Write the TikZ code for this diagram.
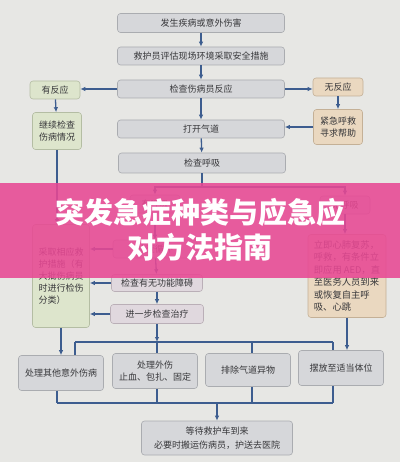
\documentclass[tikz,border=0pt]{standalone}
\usepackage{fontspec}
\newfontfamily\cjk{Noto Sans CJK SC}
\usepackage{tikz}
\usetikzlibrary{arrows.meta,calc,positioning}
\definecolor{paper}{RGB}{231,231,228}
\definecolor{boxgray}{RGB}{214,215,218}
\definecolor{boxline}{RGB}{170,172,176}
\definecolor{boxgreen}{RGB}{221,229,204}
\definecolor{linegreen}{RGB}{180,189,163}
\definecolor{boxtan}{RGB}{234,216,192}
\definecolor{linetan}{RGB}{196,176,150}
\definecolor{boxmauve}{RGB}{224,216,222}
\definecolor{linemauve}{RGB}{186,175,183}
\definecolor{arrowblue}{RGB}{61,93,143}
\definecolor{txt}{RGB}{55,55,58}
\definecolor{banner}{RGB}{232,72,148}
\tikzset{
  box/.style={draw=boxline,fill=boxgray,rounded corners=3pt,line width=0.6pt,
    minimum height=19pt,inner sep=1pt,text=txt,align=center,
    font=\cjk\fontsize{9}{12}\selectfont},
  mainbox/.style={box,minimum width=167pt},
  greenbox/.style={box,draw=linegreen,fill=boxgreen},
  tanbox/.style={box,draw=linetan,fill=boxtan},
  mauvebox/.style={box,draw=linemauve,fill=boxmauve},
  sidebox/.style={box,minimum width=85pt,minimum height=35pt},
  edge/.style={-{Latex[length=5pt,width=4.5pt]},line width=1.3pt,draw=arrowblue},
  bus/.style={line width=1.3pt,draw=arrowblue},
  every node/.style={font=\cjk\small}
}
\begin{document}
\begin{tikzpicture}[x=1pt,y=-1pt]
\useasboundingbox (0,0) rectangle (400,462);
\fill[paper] (0,0) rectangle (400,462);
% main column
\node[mainbox] (start) at (201,23) {发生疾病或意外伤害};
\node[mainbox,minimum height=18pt] (assess) at (201,56) {救护员评估现场环境采取安全措施};
\node[mainbox,minimum height=18pt] (resp) at (201,89) {检查伤病员反应};
\node[mainbox,minimum height=18pt] (airway) at (201,129) {打开气道};
\node[mainbox,minimum height=20pt] (breath) at (202,163) {检查呼吸};
% reaction branches
\node[greenbox,minimum width=50pt,minimum height=18pt] (yesresp) at (55,90) {有反应};
\node[greenbox,minimum width=49pt,minimum height=37pt] (contchk) at (57,131) {继续检查\\伤病情况};
\node[tanbox,minimum width=50pt,minimum height=18pt] (noresp) at (338,87) {无反应};
\node[tanbox,minimum width=49pt,minimum height=35pt] (callhelp) at (338,127) {紧急呼救\\寻求帮助};
% breathing branches
\node[box,minimum width=50pt,minimum height=18pt] (yesbr) at (155,204) {有呼吸};
\node[box,minimum width=50pt,minimum height=18pt] (nobr) at (345,205) {无呼吸};
\node[box,minimum width=84pt,minimum height=18pt] (circ) at (155,249) {检查循环};
\node[mauvebox,minimum width=91pt,minimum height=17pt] (disab) at (157,283) {检查有无功能障碍};
\node[mauvebox,minimum width=93pt,minimum height=19pt] (further) at (157,314) {进一步检查治疗};
\node[greenbox,minimum width=57pt,minimum height=103pt,align=left,
  font=\cjk\fontsize{9}{12}\selectfont] (measures) at (61,276)
  {采取相应救\\护措施（有\\大批伤病员\\时进行检伤\\分类）};
\node[tanbox,minimum width=78pt,minimum height=83pt,align=left,
  font=\cjk\fontsize{9.3}{12.5}\selectfont] (cpr) at (347,276)
  {立即心肺复苏，\\呼救，有条件立\\即应用 AED，直\\至医务人员到来\\或恢复自主呼\\吸、心跳};
% actions
\node[sidebox] (other) at (61,373) {处理其他意外伤病};
\node[sidebox] (wound) at (155,371) {处理外伤\\止血、包扎、固定};
\node[sidebox,minimum height=33pt] (foreign) at (248,370) {排除气道异物};
\node[sidebox] (posture) at (341,368) {摆放至适当体位};
\node[box,minimum width=151pt,minimum height=34pt,font=\cjk\fontsize{9}{14}\selectfont] (wait) at (217,438)
  {等待救护车到来\\必要时搬运伤病员，护送去医院};
% connectors
\draw[edge] (start) -- (assess);
\draw[edge] (assess) -- (resp);
\draw[edge] (resp) -- (airway);
\draw[edge] (airway) -- (breath);
\draw[edge] (resp.west) -- (yesresp.east |- resp.west);
\draw[edge] (resp.east) -- (noresp.west |- resp.east);
\draw[edge] (yesresp) -- (contchk);
\draw[edge] (noresp) -- (callhelp);
\draw[edge] (callhelp.west) -- (callhelp.west -| airway.east);
\draw[edge] (contchk.south) -- (contchk.south |- measures.north);
\coordinate (split) at (202,187);
\draw[bus] (breath) -- (split);
\draw[edge] (split) -| (yesbr.north);
\draw[edge] (split) -| (nobr.north);
\draw[edge] (yesbr) -- (circ);
\draw[edge] (circ) -- (disab);
\draw[edge] (disab) -- (further);
\draw[edge] (nobr.south) -- (nobr.south |- cpr.north);
\foreach \n in {circ,disab,further} {
  \draw[edge] (\n.west) -- (\n.west -| measures.east);
}
\draw[edge] (measures.south) -- (measures.south |- other.north);
\draw[edge] (cpr.south) -- (cpr.south |- posture.north);
% upper bus
\coordinate (busL) at (75,342);
\coordinate (busR) at (333,342);
\draw[edge] (further.south) -- (further.south |- busL);
\draw[bus] (busL) -- (busR);
\foreach \n/\x in {other/75,wound/157,foreign/252,posture/333} {
  \coordinate (d\n) at (\x,342);
  \draw[bus] (d\n) -- (d\n |- \n.north);
}
% lower bus
\coordinate (lowL) at (57,403);
\coordinate (lowR) at (333,403);
\draw[bus] (lowL) -- (lowR);
\foreach \n/\x in {other/57,wound/157,foreign/252,posture/333} {
  \coordinate (u\n) at (\x,403);
  \draw[bus] (u\n |- \n.south) -- (u\n);
}
\coordinate (join) at (217,403);
\draw[edge] (join) -- (wait.north);
% title banner
\fill[banner,opacity=0.88] (0,183) rectangle (400,278);
\node[text=white,align=center,font=\cjk\bfseries\fontsize{29}{35}\selectfont] (title) at (200,230)
  {突发急症种类与应急应\\对方法指南};
\end{tikzpicture}
\end{document}
